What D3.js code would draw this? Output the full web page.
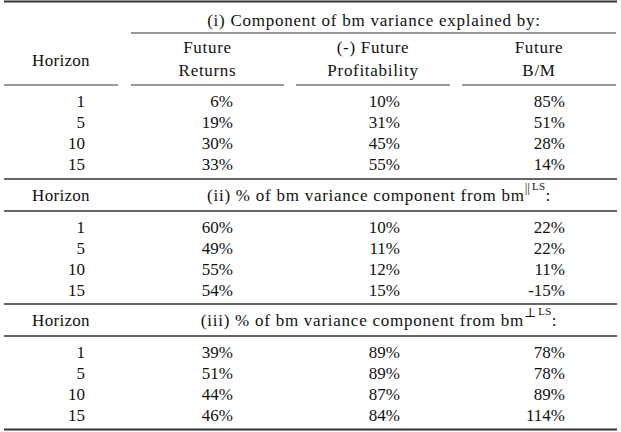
<!DOCTYPE html>
<html>
<head>
<meta charset="utf-8">
<script src="https://cdn.jsdelivr.net/npm/d3@7"></script>
<style>
  html, body { margin: 0; padding: 0; background: #fff; }
  svg text { font-family: "Liberation Serif", "DejaVu Serif", serif; fill: #111; }
</style>
</head>
<body>
<svg id="chart" width="621" height="432"></svg>
<script>
// ---- data ----
const horizons = [1, 5, 10, 15];
const colHeaders = [["Future", "Returns"], ["(-) Future", "Profitability"], ["Future", "B/M"]];
const panelTitleI = "(i) Component of bm variance explained by:";
const panelTitleII = "(ii) % of bm variance component from bm";
const panelTitleIII = "(iii) % of bm variance component from bm";
const supII = ["||", "LS"];
const supIII = ["\u22A5", "LS"];

const p1Returns = [6, 19, 30, 33];
const p1Profit  = [10, 31, 45, 55];
const p1BM      = [85, 51, 28, 14];

const p2Returns = [60, 49, 55, 54];
const p2Profit  = [10, 11, 12, 15];
const p2BM      = [22, 22, 11, -15];

const p3Returns = [39, 51, 44, 46];
const p3Profit  = [89, 89, 87, 84];
const p3BM      = [78, 78, 89, 114];

// ---- layout ----
const svg = d3.select("#chart");
const fs = 17;
const ruleColor = "#333";

const colSeg = [[4, 118], [131, 284], [296, 450], [462, 616]];
const colRight = [85, 233, 400, 565];
const fullX = [4, 617];

function hline(y, x0, x1, w) {
  svg.append("line").attr("x1", x0).attr("x2", x1).attr("y1", y).attr("y2", y)
    .attr("stroke", ruleColor).attr("stroke-width", w);
}
function txt(x, y, s, anchor, ls) {
  return svg.append("text").attr("x", x).attr("y", y)
    .attr("text-anchor", anchor || "middle")
    .attr("dominant-baseline", "central")
    .attr("letter-spacing", ls || 0)
    .attr("font-size", fs).text(s);
}

// rules
hline(1.5, fullX[0], fullX[1], 2);
hline(33, colSeg[1][0], colSeg[3][1], 1);
colSeg.forEach(s => hline(85, s[0], s[1], 1));
hline(179, fullX[0], fullX[1], 1.3);
hline(211, fullX[0], fullX[1], 1.3);
hline(304, fullX[0], fullX[1], 1.3);
hline(336, fullX[0], fullX[1], 1.3);
hline(429.5, fullX[0], fullX[1], 2);

// header panel (i)
txt(374, 20, panelTitleI, "middle", 0.75);
txt(61, 60, "Horizon", "middle", 0.3);
colHeaders.forEach((h, i) => {
  const cx = (colSeg[i + 1][0] + colSeg[i + 1][1]) / 2;
  txt(cx, 47, h[0], "middle", 0.7);
  txt(cx, 70, h[1], "middle", 0.7);
});

// panel title with superscript
function panelTitle(y, main, sup) {
  const t = svg.append("text").attr("x", 379).attr("y", y)
    .attr("dominant-baseline", "central").attr("font-size", fs)
    .attr("text-anchor", "middle").attr("letter-spacing", 0.75);
  t.append("tspan").text(main);
  t.append("tspan").attr("font-size", 13).attr("dy", -8).attr("letter-spacing", 0).text(sup[0]);
  t.append("tspan").attr("font-size", 11).attr("dx", 2).attr("dy", -1).attr("letter-spacing", 0.3).text(sup[1]);
  t.append("tspan").attr("dy", 9).text(":");
}
txt(61, 195, "Horizon", "middle", 0.3);
panelTitle(195, panelTitleII, supII);
txt(61, 320, "Horizon", "middle", 0.3);
panelTitle(320, panelTitleIII, supIII);

// panels of values
const fmt = v => v + "%";
function panel(yTop, yBot, cols) {
  const y = d3.scalePoint().domain(horizons).range([yTop, yBot]);
  svg.append("g").selectAll("text").data(horizons).join("text")
    .attr("x", colRight[0]).attr("y", d => y(d))
    .attr("text-anchor", "end").attr("dominant-baseline", "central")
    .attr("font-size", fs).text(d => d);
  cols.forEach((vals, ci) => {
    svg.append("g").selectAll("text").data(vals).join("text")
      .attr("x", colRight[ci + 1]).attr("y", (d, i) => y(horizons[i]))
      .attr("text-anchor", "end").attr("dominant-baseline", "central")
      .attr("font-size", fs).text(fmt);
  });
}
panel(101, 164, [p1Returns, p1Profit, p1BM]);
panel(227, 290, [p2Returns, p2Profit, p2BM]);
panel(352, 415, [p3Returns, p3Profit, p3BM]);
</script>
</body>
</html>
